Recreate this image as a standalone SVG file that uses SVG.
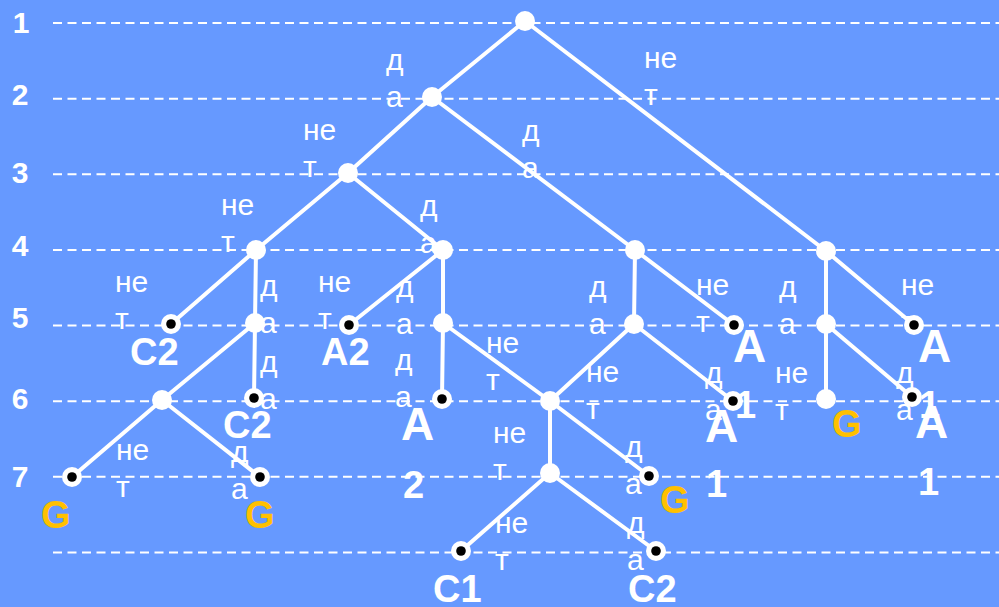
<svg xmlns="http://www.w3.org/2000/svg" width="999" height="607" viewBox="0 0 999 607">
  <style>
    .grid { stroke: #ffffff; stroke-width: 2; stroke-dasharray: 9 5.5; fill: none; }
    .edge { stroke: #ffffff; stroke-width: 4; fill: none; stroke-linecap: round; }
    .node { fill: #ffffff; }
    .dot { fill: #000000; }
    .lvl { font-family: "Liberation Sans", Arial, sans-serif; font-weight: bold; font-size: 30px; fill: #ffffff; text-anchor: middle; }
    .lbl { font-family: "Liberation Sans", Arial, sans-serif; font-size: 30px; fill: #ffffff; }
    .name { font-family: "Liberation Sans", Arial, sans-serif; font-weight: bold; font-size: 38px; fill: #ffffff; }
    .big { font-size: 46px; }
    .gold { fill: #FFC000; }
  </style>
  <defs>
    <g id="leaf">
      <circle r="10" class="node"/>
      <circle r="4.8" class="dot"/>
    </g>
  </defs>

  <rect width="999" height="607" fill="#6699FF"/>

  <!-- level guide lines -->
  <g id="levels">
    <line class="grid" x1="53" y1="23" x2="999" y2="23"/>
    <line class="grid" x1="53" y1="98.7" x2="999" y2="98.7"/>
    <line class="grid" x1="53" y1="174.3" x2="999" y2="174.3"/>
    <line class="grid" x1="53" y1="250" x2="999" y2="250"/>
    <line class="grid" x1="53" y1="325.6" x2="999" y2="325.6"/>
    <line class="grid" x1="53" y1="401.2" x2="999" y2="401.2"/>
    <line class="grid" x1="53" y1="476.8" x2="999" y2="476.8"/>
    <line class="grid" x1="53" y1="552.4" x2="999" y2="552.4"/>
    <text class="lvl" x="21" y="33">1</text>
    <text class="lvl" x="20" y="105">2</text>
    <text class="lvl" x="20" y="183">3</text>
    <text class="lvl" x="20" y="256">4</text>
    <text class="lvl" x="20" y="328">5</text>
    <text class="lvl" x="20" y="409">6</text>
    <text class="lvl" x="20" y="487">7</text>
  </g>

  <!-- connectors -->
  <g id="connectors">
    <line class="edge" x1="525" y1="21" x2="432" y2="97"/>
    <line class="edge" x1="525" y1="21" x2="826" y2="251"/>
    <line class="edge" x1="432" y1="97" x2="348" y2="173"/>
    <line class="edge" x1="432" y1="97" x2="635" y2="250"/>
    <line class="edge" x1="348" y1="173" x2="256" y2="250"/>
    <line class="edge" x1="348" y1="173" x2="443" y2="250"/>
    <line class="edge" x1="256" y1="250" x2="171" y2="324"/>
    <line class="edge" x1="256" y1="250" x2="255" y2="323"/>
    <line class="edge" x1="255" y1="323" x2="162" y2="400"/>
    <line class="edge" x1="255" y1="323" x2="254" y2="398"/>
    <line class="edge" x1="162" y1="400" x2="72" y2="477"/>
    <line class="edge" x1="162" y1="400" x2="260" y2="477"/>
    <line class="edge" x1="443" y1="250" x2="349" y2="325"/>
    <line class="edge" x1="443" y1="250" x2="443" y2="323"/>
    <line class="edge" x1="443" y1="323" x2="442" y2="399"/>
    <line class="edge" x1="443" y1="323" x2="550" y2="401"/>
    <line class="edge" x1="550" y1="401" x2="550" y2="473"/>
    <line class="edge" x1="550" y1="401" x2="649" y2="476"/>
    <line class="edge" x1="550" y1="473" x2="461" y2="551"/>
    <line class="edge" x1="550" y1="473" x2="656" y2="551"/>
    <line class="edge" x1="635" y1="250" x2="634" y2="324"/>
    <line class="edge" x1="635" y1="250" x2="734" y2="325"/>
    <line class="edge" x1="634" y1="324" x2="550" y2="401"/>
    <line class="edge" x1="634" y1="324" x2="733" y2="401"/>
    <line class="edge" x1="826" y1="251" x2="826" y2="324"/>
    <line class="edge" x1="826" y1="251" x2="914" y2="325"/>
    <line class="edge" x1="826" y1="324" x2="826" y2="399"/>
    <line class="edge" x1="826" y1="324" x2="912" y2="397"/>
  </g>

  <!-- branch answers -->
  <g id="answers">
    <text class="lbl" x="386" y="70">д<tspan x="386" dy="37">а</tspan></text>
    <text class="lbl" x="644" y="68">не<tspan x="644" dy="37">т</tspan></text>
    <text class="lbl" x="303" y="140">не<tspan x="303" dy="37">т</tspan></text>
    <text class="lbl" x="522" y="141">д<tspan x="522" dy="37">а</tspan></text>
    <text class="lbl" x="221" y="215">не<tspan x="221" dy="37">т</tspan></text>
    <text class="lbl" x="420" y="216">д<tspan x="420" dy="37">а</tspan></text>
    <text class="lbl" x="115" y="292">не<tspan x="115" dy="37">т</tspan></text>
    <text class="lbl" x="260" y="296">д<tspan x="260" dy="37">а</tspan></text>
    <text class="lbl" x="260" y="372">д<tspan x="260" dy="37">а</tspan></text>
    <text class="lbl" x="318" y="292">не<tspan x="318" dy="37">т</tspan></text>
    <text class="lbl" x="396" y="297">д<tspan x="396" dy="37">а</tspan></text>
    <text class="lbl" x="395" y="370">д<tspan x="395" dy="37">а</tspan></text>
    <text class="lbl" x="486" y="353">не<tspan x="486" dy="37">т</tspan></text>
    <text class="lbl" x="493" y="443">не<tspan x="493" dy="37">т</tspan></text>
    <text class="lbl" x="625" y="457">д<tspan x="625" dy="37">а</tspan></text>
    <text class="lbl" x="495" y="533">не<tspan x="495" dy="37">т</tspan></text>
    <text class="lbl" x="627" y="533">д<tspan x="627" dy="37">а</tspan></text>
    <text class="lbl" x="589" y="297">д<tspan x="589" dy="37">а</tspan></text>
    <text class="lbl" x="696" y="295">не<tspan x="696" dy="37">т</tspan></text>
    <text class="lbl" x="586" y="382">не<tspan x="586" dy="37">т</tspan></text>
    <text class="lbl" x="705" y="383">д<tspan x="705" dy="37">а</tspan></text>
    <text class="lbl" x="779" y="297">д<tspan x="779" dy="37">а</tspan></text>
    <text class="lbl" x="901" y="295">не<tspan x="901" dy="37">т</tspan></text>
    <text class="lbl" x="775" y="383">не<tspan x="775" dy="37">т</tspan></text>
    <text class="lbl" x="896" y="383">д<tspan x="896" dy="37">а</tspan></text>
    <text class="lbl" x="116" y="460">не<tspan x="116" dy="37">т</tspan></text>
    <text class="lbl" x="231" y="462">д<tspan x="231" dy="37">а</tspan></text>
  </g>

  <!-- inner nodes -->
  <g id="n-root"><circle class="node" cx="525" cy="21" r="10"/></g>
  <g id="n-a"><circle class="node" cx="432" cy="97" r="10"/></g>
  <g id="n-b"><circle class="node" cx="826" cy="251" r="10"/></g>
  <g id="n-c"><circle class="node" cx="348" cy="173" r="10"/></g>
  <g id="n-d"><circle class="node" cx="635" cy="250" r="10"/></g>
  <g id="n-e"><circle class="node" cx="256" cy="250" r="10"/></g>
  <g id="n-f"><circle class="node" cx="443" cy="250" r="10"/></g>
  <g id="n-g"><circle class="node" cx="255" cy="323" r="10"/></g>
  <g id="n-h"><circle class="node" cx="162" cy="400" r="10"/></g>
  <g id="n-i"><circle class="node" cx="443" cy="323" r="10"/></g>
  <g id="n-j"><circle class="node" cx="550" cy="401" r="10"/></g>
  <g id="n-k"><circle class="node" cx="550" cy="473" r="10"/></g>
  <g id="n-l"><circle class="node" cx="634" cy="324" r="10"/></g>
  <g id="n-m"><circle class="node" cx="826" cy="324" r="10"/></g>

  <!-- outcomes -->
  <g id="leaf-c2-a"><use href="#leaf" x="171" y="324"/><text class="name" x="130" y="365">C2</text></g>
  <g id="leaf-c2-b"><use href="#leaf" x="254" y="398"/><text class="name" x="223" y="438">C2</text></g>
  <g id="leaf-g-a"><use href="#leaf" x="72" y="477"/><text class="name gold" x="41" y="528">G</text></g>
  <g id="leaf-g-b"><use href="#leaf" x="260" y="477"/><text class="name gold" x="245" y="528">G</text></g>
  <g id="leaf-a2-a"><use href="#leaf" x="349" y="325"/><text class="name" x="321" y="365">A2</text></g>
  <g id="leaf-a2-b"><use href="#leaf" x="442" y="399"/><text class="name" x="401" y="440"><tspan class="big">A</tspan><tspan x="403" y="498">2</tspan></text></g>
  <g id="leaf-g-c"><use href="#leaf" x="649" y="476"/><text class="name gold" x="660" y="513">G</text></g>
  <g id="leaf-c1"><use href="#leaf" x="461" y="551"/><text class="name" x="433" y="602">C1</text></g>
  <g id="leaf-c2-c"><use href="#leaf" x="656" y="551"/><text class="name" x="628" y="602">C2</text></g>
  <g id="leaf-a1-a"><use href="#leaf" x="734" y="325"/><text class="name" x="733" y="362"><tspan class="big">A</tspan><tspan x="735" y="418">1</tspan></text></g>
  <g id="leaf-a1-b"><use href="#leaf" x="733" y="401"/><text class="name" x="705" y="442"><tspan class="big">A</tspan><tspan x="706" y="497">1</tspan></text></g>
  <g id="leaf-a1-c"><use href="#leaf" x="914" y="325"/><text class="name" x="918" y="362"><tspan class="big">A</tspan><tspan x="919" y="418">1</tspan></text></g>
  <g id="leaf-a1-d"><use href="#leaf" x="912" y="397"/><text class="name" x="915" y="438"><tspan class="big">A</tspan><tspan x="918" y="495">1</tspan></text></g>
  <g id="leaf-g-d"><circle class="node" cx="826" cy="399" r="10"/><text class="name gold" x="832" y="437">G</text></g>
</svg>
